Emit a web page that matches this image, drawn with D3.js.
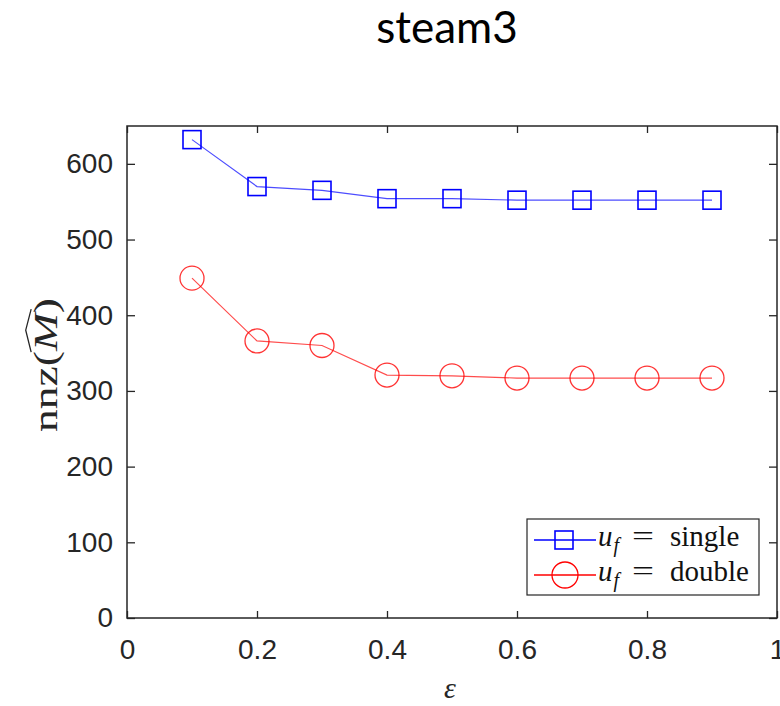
<!DOCTYPE html>
<html>
<head>
<meta charset="utf-8">
<script src="https://cdn.jsdelivr.net/npm/d3@7"></script>
<style>
  body { margin: 0; background: #fff; }
  svg { display: block; }
</style>
</head>
<body>
<svg id="chart" width="780" height="706"></svg>
<script>
let epsValues = [0.1, 0.2, 0.3, 0.4, 0.5, 0.6, 0.7, 0.8, 0.9];
let singleValues = [632, 570, 565, 554, 554, 552, 552, 552, 552];
let doubleValues = [449, 366, 360, 321, 320, 317, 317, 317, 317];
let xTicks = [0, 0.2, 0.4, 0.6, 0.8, 1];
let yTicks = [0, 100, 200, 300, 400, 500, 600];
let seriesNames = ['single', 'double'];

let svg = d3.select('#chart');
let plotLeft = 127, plotRight = 777, plotTop = 126, plotBottom = 618;
let axisColor = '#262626';
let serif = '"Liberation Serif", "Times New Roman", serif';

let x = d3.scaleLinear().domain([0, 1]).range([plotLeft, plotRight]);
let y = d3.scaleLinear().domain([0, 650]).range([plotBottom, plotTop]);

// title
svg.append('text')
  .attr('x', 447).attr('y', 43)
  .attr('text-anchor', 'middle')
  .attr('font-family', 'Lato, sans-serif')
  .attr('font-size', 44)
  .attr('fill', '#000')
  .text('steam3');

// axes (ticks pointing inward, box all round)
let tickFont = (g) => {
  g.selectAll('text')
    .attr('font-family', '"Liberation Sans", Arial, sans-serif')
    .attr('font-size', 28)
    .attr('fill', axisColor);
  g.selectAll('line').attr('stroke', axisColor).attr('stroke-width', 1.3);
  g.select('.domain').remove();
};

svg.append('g')
  .attr('transform', `translate(0,${plotBottom})`)
  .call(d3.axisBottom(x).tickValues(xTicks).tickSize(-7).tickPadding(21).tickFormat(d3.format('~g')))
  .call(tickFont);
svg.append('g')
  .attr('transform', `translate(0,${plotTop})`)
  .call(d3.axisTop(x).tickValues(xTicks).tickSize(-7).tickFormat(''))
  .call(tickFont);
svg.append('g')
  .attr('transform', `translate(${plotLeft},0)`)
  .call(d3.axisLeft(y).tickValues(yTicks).tickSize(-8).tickPadding(14))
  .call(tickFont);
svg.append('g')
  .attr('transform', `translate(${plotRight},0)`)
  .call(d3.axisRight(y).tickValues(yTicks).tickSize(-8).tickFormat(''))
  .call(tickFont);

svg.append('rect')
  .attr('x', plotLeft).attr('y', plotTop)
  .attr('width', plotRight - plotLeft).attr('height', plotBottom - plotTop)
  .attr('fill', 'none').attr('stroke', axisColor).attr('stroke-width', 1.5);

// series
let line = d3.line().x((d, i) => x(epsValues[i])).y(d => y(d));

svg.append('path')
  .datum(singleValues)
  .attr('d', line)
  .attr('fill', 'none').attr('stroke', '#0000ff').attr('stroke-width', 1.2).attr('stroke-opacity', 0.7);
svg.selectAll('.sq')
  .data(singleValues)
  .enter()
  .append('rect')
  .attr('class', 'sq')
  .attr('x', (d, i) => x(epsValues[i]) - 9)
  .attr('y', d => y(d) - 9)
  .attr('width', 18).attr('height', 18)
  .attr('fill', 'none').attr('stroke', '#0000ff').attr('stroke-width', 1.6);

svg.append('path')
  .datum(doubleValues)
  .attr('d', line)
  .attr('fill', 'none').attr('stroke', '#ff0000').attr('stroke-width', 1.2).attr('stroke-opacity', 0.7);
svg.selectAll('.ci')
  .data(doubleValues)
  .enter()
  .append('circle')
  .attr('class', 'ci')
  .attr('cx', (d, i) => x(epsValues[i]))
  .attr('cy', d => y(d))
  .attr('r', 12)
  .attr('fill', 'none').attr('stroke', '#ff0000').attr('stroke-width', 1.3).attr('stroke-opacity', 0.8);

// legend
let legend = svg.append('g');
legend.append('rect')
  .attr('x', 527).attr('y', 519).attr('width', 232).attr('height', 76)
  .attr('fill', '#fff').attr('stroke', axisColor).attr('stroke-width', 1.2);

let legendItems = [
  { name: seriesNames[0], color: '#0000ff', marker: 'square', cy: 540 },
  { name: seriesNames[1], color: '#ff0000', marker: 'circle', cy: 575 }
];
legendItems.forEach((item) => {
  legend.append('line')
    .attr('x1', 534).attr('x2', 596).attr('y1', item.cy).attr('y2', item.cy)
    .attr('stroke', item.color).attr('stroke-width', 1.3);
  if (item.marker === 'square') {
    legend.append('rect')
      .attr('x', 555).attr('y', item.cy - 9).attr('width', 18).attr('height', 18)
      .attr('fill', 'none').attr('stroke', item.color).attr('stroke-width', 1.6);
  } else {
    legend.append('circle')
      .attr('cx', 565).attr('cy', item.cy).attr('r', 13)
      .attr('fill', 'none').attr('stroke', item.color).attr('stroke-width', 1.3);
  }
  let base = item.cy + 6;
  let t = legend.append('text')
    .attr('x', 598).attr('y', base)
    .attr('font-family', serif)
    .attr('font-size', 29)
    .attr('fill', '#111');
  t.append('tspan').attr('font-style', 'italic').text('u');
  t.append('tspan').attr('font-style', 'italic').attr('font-size', 20).attr('dy', 6).attr('dx', 1).text('f');
  legend.append('text')
    .attr('x', 632).attr('y', base - 1)
    .attr('font-family', serif)
    .attr('font-size', 28)
    .attr('textLength', 22)
    .attr('lengthAdjust', 'spacingAndGlyphs')
    .attr('fill', '#111')
    .text('=');
  legend.append('text')
    .attr('x', 670).attr('y', base)
    .attr('font-family', serif)
    .attr('font-size', 29)
    .attr('fill', '#111')
    .text(item.name);
});

// x label
svg.append('text')
  .attr('x', 450).attr('y', 698)
  .attr('text-anchor', 'middle')
  .attr('font-family', serif)
  .attr('font-style', 'italic')
  .attr('font-size', 30)
  .attr('fill', '#262626')
  .text('ε');

// y label: nnz(M̂), stretched to the width of the LaTeX label
let labelLength = 134;
let fs = 34;
let ylab = svg.append('g').attr('transform', 'translate(57,365) rotate(-90)');
let ytext = ylab.append('text')
  .attr('text-anchor', 'middle')
  .attr('font-family', serif)
  .attr('font-size', fs)
  .attr('fill', '#262626');
ytext.append('tspan').text('nnz(');
ytext.append('tspan').attr('font-style', 'italic').text('M');
ytext.append('tspan').text(')');
let natural = ytext.node().getComputedTextLength();
let stretch = labelLength / natural;
let preLen = ytext.node().getSubStringLength(0, 4) * stretch;
let mLen = ytext.node().getSubStringLength(4, 1) * stretch;
ytext.attr('textLength', labelLength).attr('lengthAdjust', 'spacingAndGlyphs');
let mx0 = -labelLength / 2 + preLen;
ylab.append('path')
  .attr('d', `M${mx0 - 1},${-fs * 0.76} L${mx0 + mLen / 2 + 2},${-fs * 0.92} L${mx0 + mLen + 4},${-fs * 0.76}`)
  .attr('fill', 'none').attr('stroke', '#262626').attr('stroke-width', 1.3);
</script>
</body>
</html>
